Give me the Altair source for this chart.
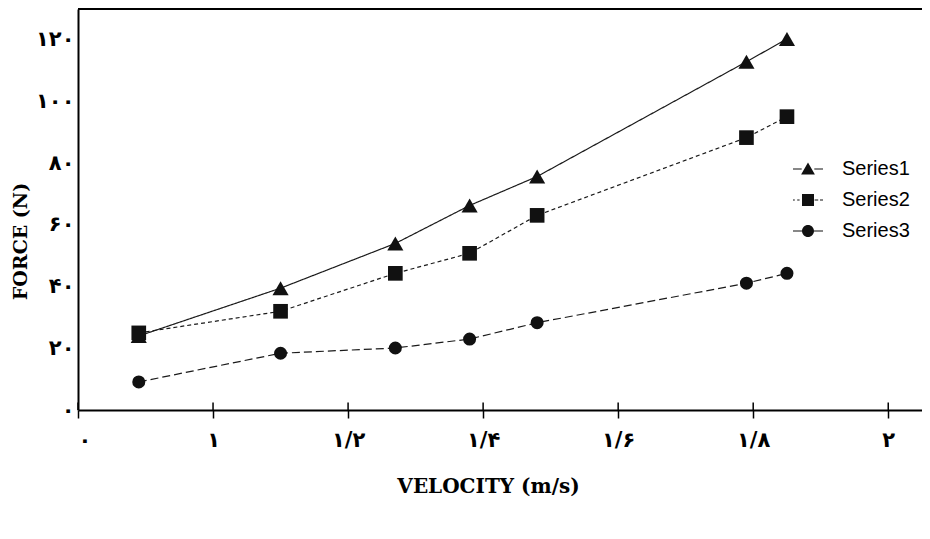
import altair as alt
import pandas as pd

# ---- data ----
velocity = [0.89, 1.10, 1.27, 1.38, 1.48, 1.79, 1.85]
series1 = [24.0, 39.5, 54.0, 66.3, 75.7, 112.9, 120.3]
series2 = [25.0, 32.0, 44.3, 50.8, 63.1, 88.3, 95.1]
series3 = [9.1, 18.4, 20.1, 23.0, 28.3, 41.1, 44.3]
series_names = ["Series1", "Series2", "Series3"]

x_ticks = [0.8, 1.0, 1.2, 1.4, 1.6, 1.8, 2.0]
x_tick_labels = ["۰", "۱", "۱/۲", "۱/۴", "۱/۶", "۱/۸", "۲"]
y_ticks = [0, 20, 40, 60, 80, 100, 120]
y_tick_labels = ["۰", "۲۰", "۴۰", "۶۰", "۸۰", "۱۰۰", "۱۲۰"]
x_domain = [0.8, 2.05]
y_domain = [0, 130]

rows = []
for name, vals in zip(series_names, [series1, series2, series3]):
    for v, f in zip(velocity, vals):
        rows.append({"series": name, "velocity": v, "force": f})
df = pd.DataFrame(rows)
tick_df = pd.DataFrame({"velocity": x_ticks})

x_expr = "[" + ",".join("'%s'" % s for s in x_tick_labels) + "][round((datum.value-0.8)/0.2)]"
y_expr = "[" + ",".join("'%s'" % s for s in y_tick_labels) + "][round(datum.value/20)]"

x_scale = alt.Scale(domain=x_domain, nice=False, zero=False)
y_scale = alt.Scale(domain=y_domain, nice=False)

label_font = "DejaVu Sans"
title_font = "DejaVu Serif"

x_axis = alt.Axis(
    values=x_ticks, labelExpr=x_expr, title="VELOCITY (m/s)", orient="bottom",
    tickSize=8, tickWidth=1.5, tickColor="black", domainColor="black", domainWidth=2,
    labelFont=label_font, labelFontSize=21, labelFontWeight="bold", labelColor="black",
    labelPadding=11, grid=False,
    titleFont=title_font, titleFontSize=20, titleFontWeight="bold", titleColor="black",
    titleX=410, titleY=76, titleBaseline="middle", titleAlign="center")
y_axis = alt.Axis(
    values=y_ticks, labelExpr=y_expr, ticks=False, domainColor="black", domainWidth=2,
    labelFont=label_font, labelFontSize=21, labelFontWeight="bold", labelColor="black",
    labelPadding=4, grid=False, orient="left",
    title="FORCE (N)", titleFont=title_font, titleFontSize=19, titleFontWeight="bold",
    titleColor="black", titleX=-58, titleY=232, titleAngle=270,
    titleBaseline="middle", titleAlign="center")

lines = alt.Chart(df).mark_line(color="#1a1a1a", strokeWidth=1.2).encode(
    x=alt.X("velocity:Q", scale=x_scale, axis=x_axis),
    y=alt.Y("force:Q", scale=y_scale, axis=y_axis),
    strokeDash=alt.StrokeDash("series:N", scale=alt.Scale(domain=series_names,
                              range=[[1, 0], [4, 3], [8, 4]]), legend=None),
    detail="series:N",
)

points = alt.Chart(df).mark_point(filled=True, color="#111111", opacity=1).encode(
    x=alt.X("velocity:Q", scale=x_scale, axis=x_axis),
    y=alt.Y("force:Q", scale=y_scale, axis=y_axis),
    shape=alt.Shape("series:N", scale=alt.Scale(domain=series_names,
                    range=["triangle-up", "square", "circle"]), legend=None),
    size=alt.Size("series:N", scale=alt.Scale(domain=series_names,
                  range=[260, 170, 155]), legend=None),
)

# cross-shaped x ticks: the inner half of each tick
inner_ticks = alt.Chart(tick_df).mark_rule(color="black", strokeWidth=1.5).encode(
    x=alt.X("velocity:Q", scale=x_scale, axis=x_axis),
    y=alt.YDatum(0, type="quantitative", scale=y_scale, axis=y_axis),
    y2=alt.Y2Datum(2.4),
)

# top frame line at the upper end of the y domain
top_frame = alt.Chart(tick_df).mark_rule(color="black", strokeWidth=2).encode(
    x=alt.XDatum(x_domain[0], type="quantitative", scale=x_scale, axis=x_axis),
    x2=alt.X2Datum(x_domain[1]),
    y=alt.YDatum(y_domain[1], type="quantitative", scale=y_scale, axis=y_axis),
)

# legend symbols: a short line with the marker in its middle (all filled shapes)
legend_paths = [
    "M-2.5,-0.1H-1.05V0.1H-2.5Z M1.05,-0.1H2.5V0.1H1.05Z M0,-1.1L1.15,0.9L-1.15,0.9Z",
    "M-2.5,-0.1H-2.2V0.1H-2.5Z M-1.8,-0.1H-1.4V0.1H-1.8Z M1.1,-0.1H1.7V0.1H1.1Z "
    "M2.0,-0.1H2.5V0.1H2.0Z M-1,-1H1V1H-1Z",
    "M-2.5,-0.1H-1V0.1H-2.5Z M1,-0.1H2.5V0.1H1Z M1,0A1,1,0,1,1,-1,0A1,1,0,1,1,1,0Z",
]

legend_layer = alt.Chart(df).transform_filter("false").mark_point(
    filled=True, color="#111111", opacity=1).encode(
    x=alt.X("velocity:Q", scale=x_scale, axis=x_axis),
    y=alt.Y("force:Q", scale=y_scale, axis=y_axis),
    shape=alt.Shape("series:N", scale=alt.Scale(domain=series_names, range=legend_paths),
                    legend=alt.Legend(
                        orient="none", legendX=720, legendY=150, title=None,
                        symbolSize=144, symbolFillColor="#111111",
                        symbolStrokeWidth=0, symbolOpacity=1,
                        labelFont="Liberation Sans", labelFontSize=20,
                        labelColor="black", labelOffset=24, rowPadding=11, padding=0)),
)

chart = alt.layer(lines, inner_ticks, top_frame, points, legend_layer).resolve_scale(
    shape="independent"
).properties(
    width=844, height=401,
    autosize=alt.AutoSizeParams(type="none"),
    padding={"left": 70, "top": 1, "right": 0, "bottom": 110},
    background="white",
).configure_view(stroke="white", strokeWidth=0, strokeOpacity=0)

chart.save("out.html", embed_options={"renderer": "svg", "actions": False})
